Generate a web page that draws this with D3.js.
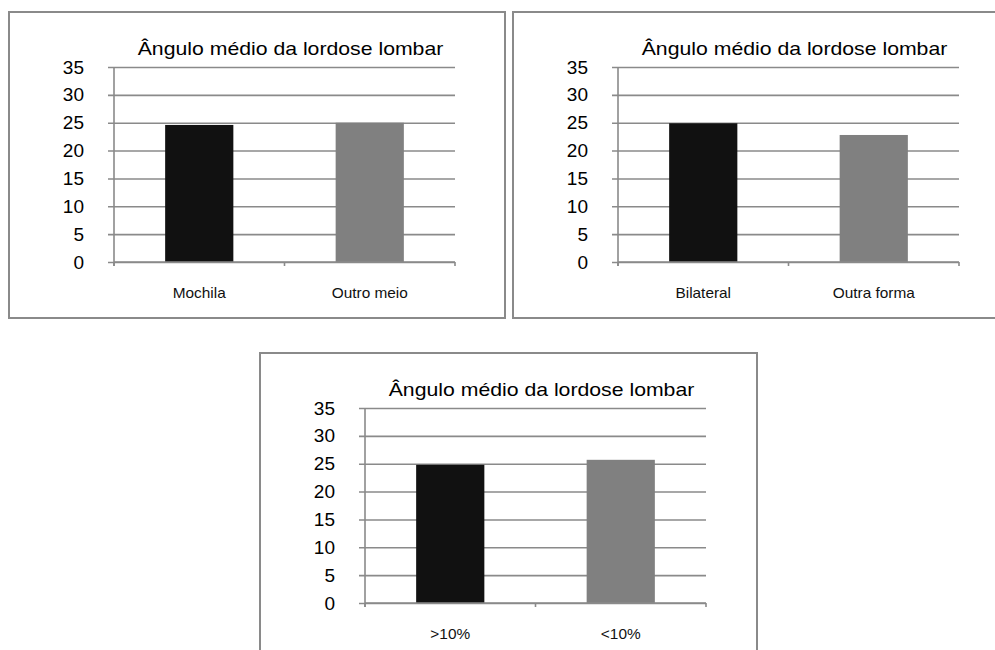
<!DOCTYPE html>
<html>
<head>
<meta charset="utf-8">
<script src="https://cdn.jsdelivr.net/npm/d3@7"></script>
<style>
  body { margin: 0; background: #fff; }
  svg { display: block; font-family: "Liberation Sans", Arial, sans-serif; }
</style>
</head>
<body>
<svg id="chart" width="995" height="650"></svg>
<script>
// Data
let chartTitle = "Ângulo médio da lordose lombar";
let yTicks = [0, 5, 10, 15, 20, 25, 30, 35];

let categoriesA = ["Mochila", "Outro meio"];
let valuesA = [24.6, 25.0];

let categoriesB = ["Bilateral", "Outra forma"];
let valuesB = [24.9, 22.8];

let categoriesC = [">10%", "<10%"];
let valuesC = [24.8, 25.7];

let barColors = ["#111111", "#808080"];
let lineColor = "#8a8a8a";

let svg = d3.select("#chart");

// Draw one chart panel, box top-left at (bx, by)
function drawPanel(bx, by, bw, bh, categories, values) {
    let width = 341;
    let height = 195;
    let left = 105;
    let top = 55;

    // Frame
    svg.append("rect")
        .attr("x", bx).attr("y", by)
        .attr("width", bw).attr("height", bh)
        .attr("fill", "#fff")
        .attr("stroke", lineColor)
        .attr("stroke-width", 2);

    let g = svg.append("g")
        .attr("transform", "translate(" + (bx + left) + "," + (by + top) + ")");

    // Scales
    let xScale = d3.scaleBand()
        .domain(categories)
        .range([0, width])
        .paddingInner(0.6)
        .paddingOuter(0.3);

    let yScale = d3.scaleLinear()
        .domain([0, 35])
        .range([height, 0]);

    // Y axis with grid lines
    let yAxis = g.append("g")
        .call(d3.axisLeft(yScale).tickValues(yTicks).tickSizeOuter(0).tickPadding(24));
    yAxis.select(".domain").remove();
    yAxis.selectAll(".tick line")
        .attr("x1", -6)
        .attr("x2", width)
        .attr("stroke", lineColor)
        .attr("stroke-width", 1.6);
    yAxis.selectAll(".tick text")
        .attr("font-size", 19)
        .attr("fill", "#000");

    // Vertical axis line
    g.append("line")
        .attr("x1", 0).attr("x2", 0)
        .attr("y1", yScale(35)).attr("y2", height + 4)
        .attr("stroke", lineColor)
        .attr("stroke-width", 1.6);

    // Bars
    g.selectAll(".bar")
        .data(values)
        .enter()
        .append("rect")
        .attr("class", "bar")
        .attr("x", (d, i) => xScale(categories[i]))
        .attr("y", d => yScale(d))
        .attr("width", xScale.bandwidth())
        .attr("height", d => height - yScale(d))
        .attr("fill", (d, i) => barColors[i]);

    // X axis line and tick marks at category boundaries
    let gap = (xScale.step() - xScale.bandwidth()) / 2;
    let bounds = categories.map(c => xScale(c) - gap).concat([width]);
    g.append("line")
        .attr("x1", 0).attr("x2", width)
        .attr("y1", height).attr("y2", height)
        .attr("stroke", lineColor)
        .attr("stroke-width", 1.6);
    g.selectAll(".xtick")
        .data(bounds)
        .enter()
        .append("line")
        .attr("x1", d => d).attr("x2", d => d)
        .attr("y1", height).attr("y2", height + 4)
        .attr("stroke", lineColor)
        .attr("stroke-width", 1.6);

    // Category labels
    g.selectAll(".xlabel")
        .data(categories)
        .enter()
        .append("text")
        .attr("transform", d => "translate(" + (xScale(d) + xScale.bandwidth() / 2) + "," + (height + 36) + ") scale(1.1,1)")
        .attr("text-anchor", "middle")
        .attr("font-size", 14)
        .attr("fill", "#111")
        .text(d => d);

    // Title
    g.append("text")
        .attr("transform", "translate(" + (width / 2 + 6) + "," + (-12) + ") scale(1.18,1)")
        .attr("text-anchor", "middle")
        .attr("font-size", 18)
        .attr("fill", "#000")
        .text(chartTitle);
}

drawPanel(9, 12, 496, 306, categoriesA, valuesA);
drawPanel(513, 12, 500, 306, categoriesB, valuesB);
drawPanel(260, 353, 497, 310, categoriesC, valuesC);
</script>
</body>
</html>
